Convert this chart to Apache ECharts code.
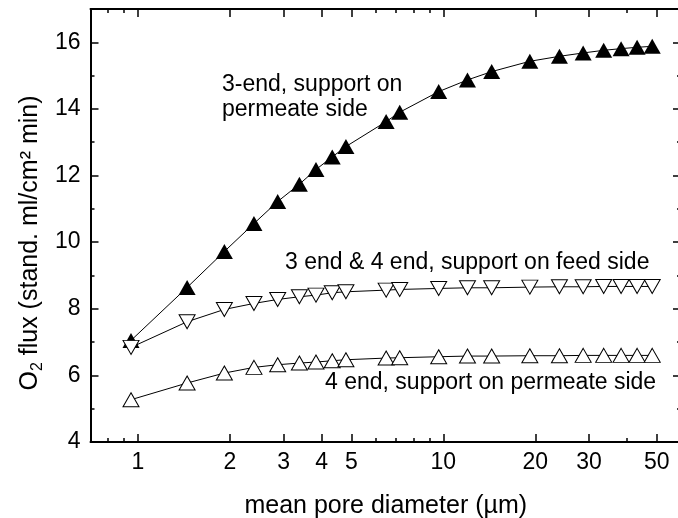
<!DOCTYPE html>
<html><head><meta charset="utf-8">
<script src="https://cdn.jsdelivr.net/npm/echarts@6/dist/echarts.min.js"></script>
<style>html,body{margin:0;padding:0;background:#fff}#c{width:678px;height:518px}</style>
</head><body><div id="c"></div>
<script>
// mean pore diameter (µm)
const diameters = [0.95, 1.45, 1.92, 2.40, 2.87, 3.38, 3.83, 4.33, 4.80, 6.5, 7.2, 9.66, 12.0, 14.4, 19.2, 24.0, 28.7, 33.5, 38.2, 43.1, 48.3];
// O2 flux (stand. ml/cm2 min)
const flux3EndPermeateSupport = [7.05, 8.64, 9.72, 10.56, 11.22, 11.74, 12.18, 12.56, 12.87, 13.62, 13.9, 14.52, 14.87, 15.12, 15.43, 15.58, 15.68, 15.76, 15.81, 15.85, 15.88];
const flux3And4EndFeedSupport = [6.84, 7.61, 7.98, 8.16, 8.28, 8.36, 8.41, 8.48, 8.51, 8.56, 8.58, 8.61, 8.63, 8.63, 8.65, 8.66, 8.66, 8.67, 8.67, 8.67, 8.67];
const flux4EndPermeateSupport = [5.27, 5.77, 6.07, 6.24, 6.32, 6.37, 6.40, 6.44, 6.47, 6.52, 6.53, 6.56, 6.58, 6.58, 6.59, 6.59, 6.60, 6.60, 6.60, 6.60, 6.60];

const xTickLabels = [1, 2, 3, 4, 5, 10, 20, 30, 50];
const xMinorTicks = [0.8, 0.9, 6, 7, 8, 9, 40];
const yTickLabels = [4, 6, 8, 10, 12, 14, 16];
const yMinorTicks = [5, 7, 9, 11, 13, 15];
const xRange = [0.7, 60];
const yRange = [4, 17];

const FONT = '"Liberation Sans", Arial, Helvetica, sans-serif';
const lg = v => Math.log10(v);

function xAx(position, ticks, len, withLabels, withLine) {
  return {
    type: 'value', position: position,
    min: lg(xRange[0]), max: lg(xRange[1]),
    splitLine: {show: false},
    axisLine: {show: withLine, onZero: false, lineStyle: {color: '#000', width: 2}},
    axisTick: {show: true, inside: true, length: len, customValues: ticks.map(lg), lineStyle: {color: '#000', width: 1.5}},
    axisLabel: withLabels ? {show: true, customValues: ticks.map(lg), margin: 9, color: '#000', fontSize: 23, fontFamily: FONT,
      formatter: v => String(Math.round(Math.pow(10, v)))} : {show: false},
    name: withLabels ? 'mean pore diameter (µm)' : '',
    nameLocation: 'middle', nameGap: 52,
    nameTextStyle: {color: '#000', fontSize: 25, fontFamily: FONT}
  };
}
function yAx(position, ticks, len, withLabels, withLine) {
  return {
    type: 'value', position: position,
    min: yRange[0], max: yRange[1],
    splitLine: {show: false},
    axisLine: {show: withLine, onZero: false, lineStyle: {color: '#000', width: 2}},
    axisTick: {show: true, inside: true, length: len, customValues: ticks, lineStyle: {color: '#000', width: 1.5}},
    axisLabel: withLabels ? {show: true, customValues: ticks, margin: 10, color: '#000', fontSize: 23, fontFamily: FONT} : {show: false}
  };
}

const pairs = ys => diameters.map((d, i) => [lg(d), ys[i]]);

const chart = echarts.init(document.getElementById('c'), null, {renderer: 'canvas'});
chart.setOption({
  animation: false,
  backgroundColor: '#fff',
  grid: {left: 90.5, right: -3, top: 9, bottom: 76, containLabel: false, outerBoundsMode: 'none'},
  xAxis: [
    xAx('bottom', xTickLabels, 8, true, true),
    xAx('bottom', xMinorTicks, 4, false, false),
    xAx('top', xTickLabels, 8, false, true),
    xAx('top', xMinorTicks, 4, false, false)
  ],
  yAxis: [
    yAx('left', yTickLabels, 8, true, true),
    yAx('left', yMinorTicks, 4, false, false),
    yAx('right', yTickLabels, 8, false, true),
    yAx('right', yMinorTicks, 4, false, false)
  ],
  series: [
    {type: 'line', name: '3-end, support on permeate side', data: pairs(flux3EndPermeateSupport),
      symbol: 'triangle', symbolSize: [17, 15], lineStyle: {color: '#000', width: 1},
      itemStyle: {color: '#000', borderColor: '#000', borderWidth: 0}},
    {type: 'line', name: '3 end & 4 end, support on feed side', data: pairs(flux3And4EndFeedSupport),
      symbol: 'triangle', symbolRotate: 180, symbolSize: [16, 14], lineStyle: {color: '#000', width: 1},
      itemStyle: {color: '#fff', borderColor: '#000', borderWidth: 1}},
    {type: 'line', name: '4 end, support on permeate side', data: pairs(flux4EndPermeateSupport),
      symbol: 'triangle', symbolSize: [16, 14], lineStyle: {color: '#000', width: 1},
      itemStyle: {color: '#fff', borderColor: '#000', borderWidth: 1}}
  ],
  graphic: [
    {type: 'text', x: 222, y: 85, style: {text: '3-end, support on', font: '23px ' + FONT, fill: '#000', align: 'left', verticalAlign: 'middle'}},
    {type: 'text', x: 222, y: 110, style: {text: 'permeate side', font: '23px ' + FONT, fill: '#000', align: 'left', verticalAlign: 'middle'}},
    {type: 'text', x: 285, y: 263, style: {text: '3 end & 4 end, support on feed side', font: '23px ' + FONT, fill: '#000', align: 'left', verticalAlign: 'middle'}},
    {type: 'text', x: 325, y: 383, style: {text: '4 end, support on permeate side', font: '23px ' + FONT, fill: '#000', align: 'left', verticalAlign: 'middle'}},
    {type: 'text', x: 30, y: 243, rotation: Math.PI / 2,
      style: {text: '{m|O}{s|2}{m| flux (stand. ml/cm² min)}', align: 'center', verticalAlign: 'middle', fill: '#000',
        rich: {
          m: {fontSize: 25, fontFamily: FONT, lineHeight: 32, verticalAlign: 'middle', fill: '#000'},
          s: {fontSize: 16, fontFamily: FONT, lineHeight: 32, verticalAlign: 'bottom', fill: '#000'}
        }}}
  ]
});
</script></body></html>
